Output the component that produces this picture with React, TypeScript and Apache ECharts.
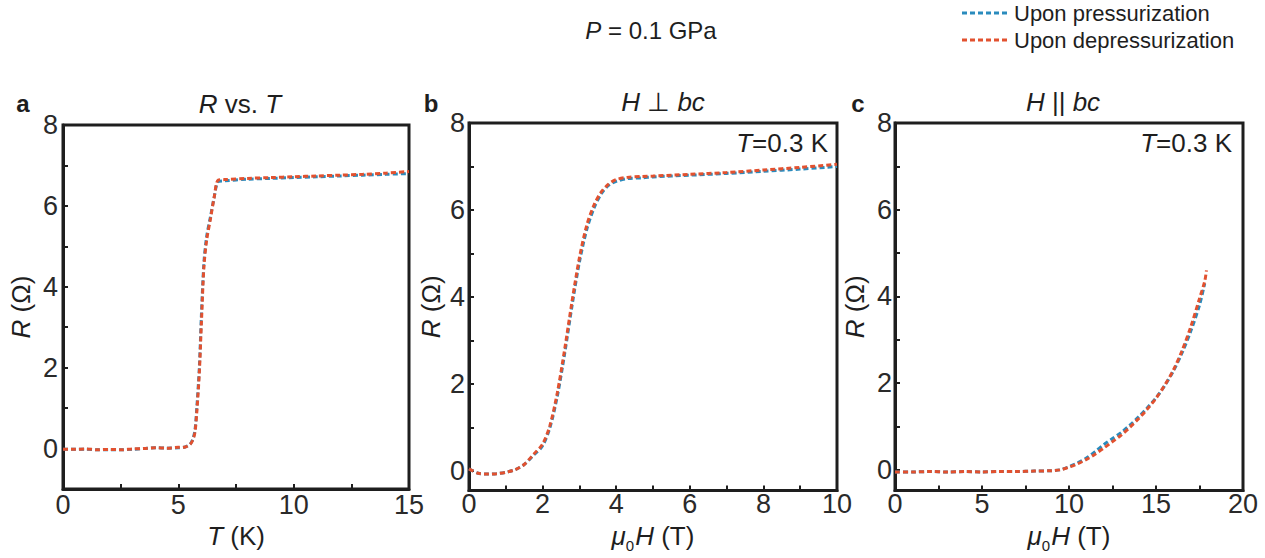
import React, { useEffect, useRef } from "react";
import * as echarts from "echarts";

// ---------- Data ----------
// Panel a: R vs T
const aTemp = [0, 0.5, 1, 1.5, 2, 2.5, 3, 3.5, 4, 4.5, 5, 5.3, 5.5, 5.62, 5.72, 5.8, 5.91, 6.0, 6.11, 6.23, 6.4, 6.55, 6.73, 7, 8, 9, 10, 11, 12, 13, 14, 15];
const aRup = [-0.02, -0.02, -0.02, -0.03, -0.03, -0.03, -0.02, 0.0, 0.02, 0.01, 0.02, 0.04, 0.1, 0.22, 0.45, 1.0, 2.0, 3.3, 4.6, 5.25, 5.75, 6.2, 6.6, 6.62, 6.66, 6.68, 6.7, 6.72, 6.74, 6.76, 6.78, 6.8];
const aRdown = [-0.02, -0.02, -0.01, -0.03, -0.02, -0.03, -0.01, 0.0, 0.02, 0.01, 0.03, 0.04, 0.1, 0.2, 0.4, 0.9, 1.87, 3.1, 4.5, 5.16, 5.7, 6.2, 6.64, 6.65, 6.68, 6.7, 6.72, 6.74, 6.76, 6.78, 6.81, 6.85];

// Panel b: H perpendicular to bc
const bField = [0, 0.25, 0.5, 0.75, 1, 1.25, 1.5, 1.75, 2, 2.2, 2.4, 2.6, 2.8, 3.0, 3.2, 3.4, 3.6, 3.8, 4.0, 4.3, 4.7, 5, 6, 7, 8, 9, 10];
const bRup = [0.05, -0.05, -0.07, -0.06, -0.03, 0.03, 0.15, 0.36, 0.58, 1.0, 1.72, 2.7, 3.8, 4.8, 5.55, 6.05, 6.38, 6.57, 6.66, 6.72, 6.74, 6.76, 6.8, 6.84, 6.89, 6.94, 7.0];
const bRdown = [0.05, -0.05, -0.07, -0.06, -0.03, 0.03, 0.15, 0.38, 0.62, 1.05, 1.8, 2.8, 3.9, 4.9, 5.65, 6.12, 6.42, 6.6, 6.7, 6.75, 6.77, 6.78, 6.82, 6.86, 6.92, 6.98, 7.05];

// Panel c: H parallel to bc
const cField = [0, 1, 2, 3, 4, 5, 6, 7, 8, 9, 9.5, 10, 10.5, 11, 11.5, 12, 12.5, 13, 13.5, 14, 14.5, 15, 15.5, 16, 16.5, 17, 17.5, 17.8, 17.9];
const cRup = [-0.05, -0.05, -0.04, -0.05, -0.04, -0.05, -0.04, -0.04, -0.03, -0.02, 0.0, 0.07, 0.16, 0.27, 0.42, 0.58, 0.72, 0.86, 1.03, 1.22, 1.43, 1.66, 1.94, 2.28, 2.7, 3.2, 3.8, 4.3, null];
const cRdown = [-0.05, -0.05, -0.04, -0.05, -0.04, -0.05, -0.04, -0.04, -0.03, -0.02, 0.0, 0.06, 0.14, 0.24, 0.36, 0.5, 0.65, 0.8, 0.98, 1.18, 1.4, 1.65, 1.95, 2.3, 2.75, 3.3, 3.95, 4.35, 4.6];

// Ticks
const aXMajor = [0, 5, 10, 15];
const aXTicks = [0, 2.5, 5, 7.5, 10, 12.5, 15];
const bXMajor = [0, 2, 4, 6, 8, 10];
const bXTicks = [0, 1, 2, 3, 4, 5, 6, 7, 8, 9, 10];
const cXMajor = [0, 5, 10, 15, 20];
const cXTicks = [0, 2.5, 5, 7.5, 10, 12.5, 15, 17.5, 20];
const yMajor = [0, 2, 4, 6, 8];
const yTicks = [0, 1, 2, 3, 4, 5, 6, 7, 8];

const seriesNames = ["Upon pressurization", "Upon depressurization"];
const BLUE = "#2a8bbd";
const RED = "#e2512f";
const INK = "#1e1e1e";
const FONT = "'Liberation Sans', Arial, Helvetica, sans-serif";
const TICK_FS = 27;
const NAME_FS = 26;

function zip(xs: number[], ys: (number | null)[]) {
  const out: any[] = [];
  for (let i = 0; i < xs.length; i++) if (ys[i] !== null && ys[i] !== undefined) out.push([xs[i], ys[i]]);
  return out;
}

const italicRich = {
  i: { fontStyle: "italic", fontSize: NAME_FS, fontFamily: FONT, color: INK },
  n: { fontSize: NAME_FS, fontFamily: FONT, color: INK },
  s: { fontSize: 15, fontFamily: FONT, color: INK, verticalAlign: "bottom", padding: [20, 1, 0, 0] },
};

function xAxisCfg(grid: number, min: number, max: number, major: number[], ticks: number[], name: string, nameGap: number, margin: number) {
  return {
    gridIndex: grid,
    type: "value",
    min,
    max,
    axisLine: { show: true, onZero: false, lineStyle: { color: INK, width: 3 } },
    axisTick: { show: true, inside: true, length: 5, customValues: ticks, lineStyle: { color: INK, width: 2 } },
    axisLabel: { customValues: major, fontSize: TICK_FS, color: "#2a2a2a", fontFamily: FONT, margin },
    splitLine: { show: false },
    name,
    nameLocation: "middle",
    nameGap,
    nameTextStyle: { fontSize: NAME_FS, fontFamily: FONT, color: INK, rich: italicRich },
  };
}

function yAxisCfg(grid: number, min: number, nameGap: number, margin: number) {
  return {
    gridIndex: grid,
    type: "value",
    min,
    max: 8,
    axisLine: { show: true, onZero: false, lineStyle: { color: INK, width: 3 } },
    axisTick: { show: true, inside: true, length: 5, customValues: yTicks, lineStyle: { color: INK, width: 2 } },
    axisLabel: { customValues: yMajor, fontSize: TICK_FS, color: "#2a2a2a", fontFamily: FONT, margin },
    splitLine: { show: false },
    name: "{i|R} {n|(Ω)}",
    nameLocation: "middle",
    nameGap,
    nameTextStyle: { fontSize: NAME_FS, fontFamily: FONT, color: INK, rich: italicRich },
  };
}

function lineSeries(name: string, color: string, idx: number, data: any[], z: number) {
  return {
    name,
    type: "line",
    xAxisIndex: idx,
    yAxisIndex: idx,
    data,
    showSymbol: false,
    smooth: 0.3,
    z,
    lineStyle: { color, width: 3, type: [5, 3] },
    itemStyle: { color },
  };
}

function txt(x: number, y: number, text: string, opts: any = {}) {
  return {
    type: "text",
    x,
    y,
    style: {
      text,
      fill: INK,
      font: opts.font || `${NAME_FS}px ${FONT}`,
      textAlign: opts.align || "center",
      textVerticalAlign: "middle",
      rich: opts.rich,
    },
  };
}

const textRich = {
  i: { fontStyle: "italic", fontSize: NAME_FS, fontFamily: FONT, fill: INK },
};
const textRichTop = {
  i: { fontStyle: "italic", fontSize: 24, fontFamily: FONT, fill: INK },
};

export default function App() {
  const ref = useRef<HTMLDivElement>(null);
  useEffect(() => {
    if (!ref.current) return;
    const chart = echarts.init(ref.current, null, { renderer: "svg" });
    const gridStyle = { show: true, borderColor: INK, borderWidth: 3, backgroundColor: "transparent", containLabel: false };
    chart.setOption({
      animation: false,
      backgroundColor: "#ffffff",
      grid: [
        { left: 63, top: 125, width: 346, height: 364, ...gridStyle },
        { left: 469, top: 123, width: 368, height: 372, ...gridStyle },
        { left: 895, top: 123, width: 348, height: 370, ...gridStyle },
      ],
      xAxis: [
        xAxisCfg(0, 0, 15, aXMajor, aXTicks, "{i|T} {n|(K)}", 18, 2),
        xAxisCfg(1, 0, 10, bXMajor, bXTicks, "{i|μ}{s|0}{i|H} {n|(T)}", 4, 0),
        xAxisCfg(2, 0, 20, cXMajor, cXTicks, "{i|μ}{s|0}{i|H} {n|(T)}", 6, 0),
      ],
      yAxis: [yAxisCfg(0, -1, 29, 5), yAxisCfg(1, -0.45, 25, 4), yAxisCfg(2, -0.48, 27, 3)],
      series: [
        lineSeries(seriesNames[0], BLUE, 0, zip(aTemp, aRup), 2),
        lineSeries(seriesNames[1], RED, 0, zip(aTemp, aRdown), 3),
        lineSeries(seriesNames[0], BLUE, 1, zip(bField, bRup), 2),
        lineSeries(seriesNames[1], RED, 1, zip(bField, bRdown), 3),
        lineSeries(seriesNames[0], BLUE, 2, zip(cField, cRup), 2),
        lineSeries(seriesNames[1], RED, 2, zip(cField, cRdown), 3),
      ],
      graphic: [
        txt(651, 30, "{i|P} = 0.1 GPa", { font: `24px ${FONT}`, rich: textRichTop }),
        { type: "line", shape: { x1: 962, y1: 13, x2: 1010, y2: 13 }, style: { stroke: BLUE, lineWidth: 3, lineDash: [5, 3] } },
        { type: "line", shape: { x1: 962, y1: 40, x2: 1010, y2: 40 }, style: { stroke: RED, lineWidth: 3, lineDash: [5, 3] } },
        txt(1014, 13, seriesNames[0], { font: `22px ${FONT}`, align: "left" }),
        txt(1014, 40, seriesNames[1], { font: `22px ${FONT}`, align: "left" }),
        txt(23, 103, "a", { font: `bold 24px ${FONT}` }),
        txt(431, 103, "b", { font: `bold 24px ${FONT}` }),
        txt(858, 103, "c", { font: `bold 24px ${FONT}` }),
        txt(240, 104, "{i|R} vs. {i|T}", { rich: textRich }),
        txt(663, 102, "{i|H} ⊥ {i|bc}", { rich: textRich }),
        txt(1063, 102, "{i|H} || {i|bc}", { rich: textRich }),
        txt(828, 143, "{i|T}=0.3 K", { align: "right", rich: textRich }),
        txt(1232, 143, "{i|T}=0.3 K", { align: "right", rich: textRich }),
      ],
    });
    return () => chart.dispose();
  }, []);
  return <div ref={ref} style={{ position: "fixed", left: 0, top: 0, width: 1265, height: 558 }} />;
}
